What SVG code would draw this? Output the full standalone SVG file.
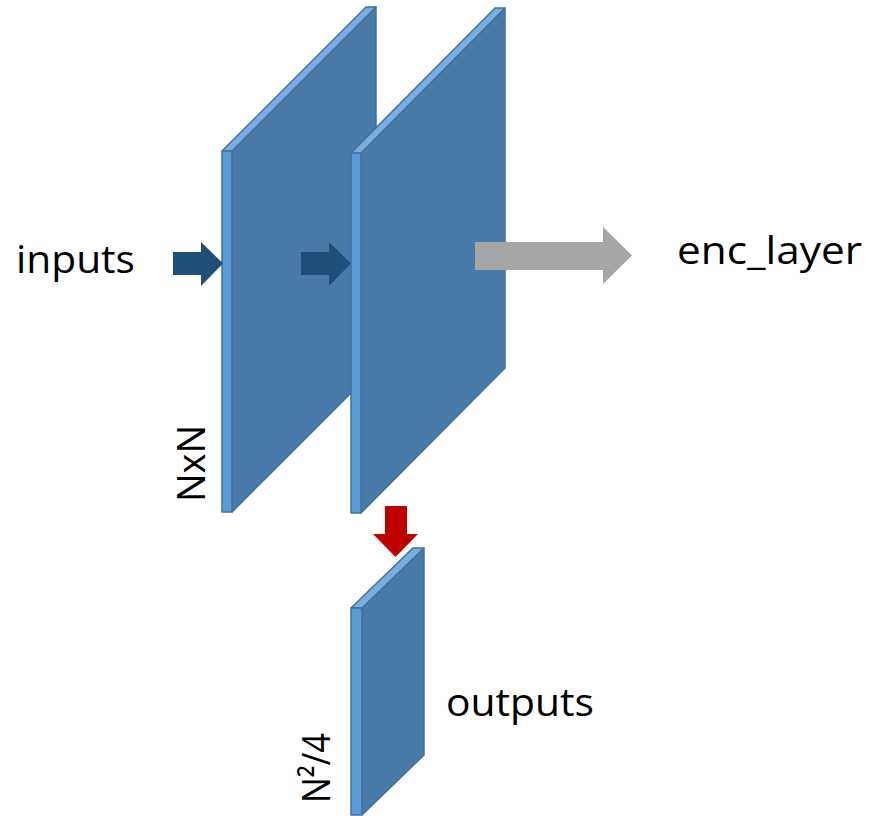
<svg xmlns="http://www.w3.org/2000/svg" width="869" height="816" viewBox="0 0 869 816">
<style>
.side{fill:#487BAA;stroke:#41719C;stroke-width:1.5;stroke-linejoin:round}
.front{fill:#5B9BD5;stroke:#41719C;stroke-width:1.5;stroke-linejoin:round}
.top{fill:#7AAEE0;stroke:#41719C;stroke-width:1.5;stroke-linejoin:round}
.lbl{font-family:"Open Sans","Liberation Sans",sans-serif;font-size:39px;fill:#000}
</style>
<rect width="869" height="816" fill="#fff"/>
<g id="layer1">
<polygon class="side" points="232,151 376,7 376,368 232,512"/>
<polygon class="top" points="222,151 232,151 376,7 366,7"/>
<rect class="front" x="222" y="151" width="10" height="361"/>
</g>
<g id="layer2">
<polygon class="side" points="361,153 505,8 505,368 361,513"/>
<polygon class="top" points="351,153 361,153 505,8 495,8"/>
<rect class="front" x="351" y="153" width="10" height="360"/>
</g>
<g id="output_layer">
<polygon class="side" points="362,608 424,548 424,755 362,815"/>
<polygon class="top" points="351,608 362,608 424,548 413,548"/>
<rect class="front" x="351" y="608" width="11" height="207"/>
</g>
<g id="connectors">
<polygon fill="#1F4E79" points="173,252 201,252 201,242 223,263.5 201,286 201,275 173,275"/>
<polygon fill="#1F4E79" points="301,252 329,252 329,242 351,263.5 329,286 329,275 301,275"/>
<polygon fill="#A5A5A5" points="475,242 603,242 603,227 632,255.5 603,284 603,270 475,270"/>
<polygon fill="#C00000" points="385,506 407,506 407,534 418,534 395.5,557 373,534 385,534"/>
</g>
<g id="labels">
<text class="lbl" x="16" y="273" textLength="119" lengthAdjust="spacingAndGlyphs">inputs</text>
<text class="lbl" x="677" y="264" textLength="185" lengthAdjust="spacingAndGlyphs">enc_layer</text>
<text class="lbl" x="446" y="716" textLength="148" lengthAdjust="spacingAndGlyphs">outputs</text>
<text class="lbl" transform="translate(205,502) rotate(-90)" x="0" y="0" textLength="77" lengthAdjust="spacingAndGlyphs">NxN</text>
<text class="lbl" transform="translate(330,803) rotate(-90)" x="0" y="0" textLength="70" lengthAdjust="spacingAndGlyphs">N²/4</text>
</g>
</svg>
